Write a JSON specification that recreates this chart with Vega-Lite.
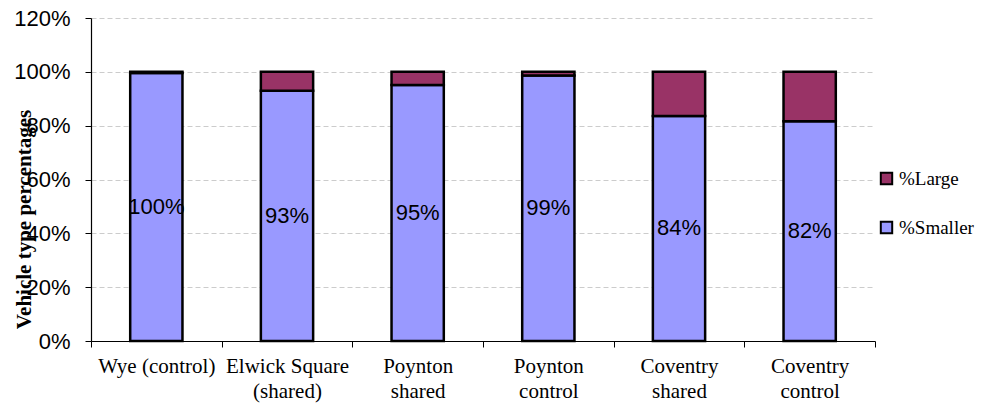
{
  "$schema": "https://vega.github.io/schema/vega-lite/v6.json",
  "autosize": "none",
  "width": 784,
  "height": 323,
  "padding": {"left": 91, "top": 18, "right": 107, "bottom": 67},
  "background": "white",
  "config": {"view": {"stroke": null}},
  "data": {
    "values": [
      {"site": "Wye (control)", "type": "%Smaller", "value": 0.996},
      {"site": "Wye (control)", "type": "%Large", "value": 0.004},
      {"site": "Elwick Square|(shared)", "type": "%Smaller", "value": 0.93},
      {"site": "Elwick Square|(shared)", "type": "%Large", "value": 0.07},
      {"site": "Poynton|shared", "type": "%Smaller", "value": 0.951},
      {"site": "Poynton|shared", "type": "%Large", "value": 0.049},
      {"site": "Poynton|control", "type": "%Smaller", "value": 0.986},
      {"site": "Poynton|control", "type": "%Large", "value": 0.014},
      {"site": "Coventry|shared", "type": "%Smaller", "value": 0.836},
      {"site": "Coventry|shared", "type": "%Large", "value": 0.164},
      {"site": "Coventry|control", "type": "%Smaller", "value": 0.816},
      {"site": "Coventry|control", "type": "%Large", "value": 0.184}
    ]
  },
  "encoding": {
    "x": {
      "field": "site", "type": "nominal", "sort": null,
      "scale": {"paddingInner": 0, "paddingOuter": 0},
      "axis": {
        "title": null, "labelAngle": 0, "tickBand": "extent",
        "labelExpr": "isValid(datum.value) ? split(datum.value, '|') : ''",
        "labelFont": "Liberation Serif", "labelFontSize": 21, "labelColor": "black",
        "labelLineHeight": 25, "labelPadding": 8, "labelBaseline": "top",
        "tickColor": "black", "tickSize": 6, "domainColor": "black", "domainWidth": 1.2,
        "grid": false
      }
    }
  },
  "layer": [
    {
      "mark": {"type": "bar", "width": {"band": 0.4}, "stroke": "black", "strokeWidth": 2.5},
      "encoding": {
        "y": {
          "field": "value", "type": "quantitative", "stack": "zero",
          "scale": {"domain": [0, 1.2], "nice": false},
          "axis": {
            "format": ".0%", "values": [0, 0.2, 0.4, 0.6, 0.8, 1.0, 1.2],
            "title": "Vehicle type percentages",
            "titleFont": "Liberation Serif", "titleFontSize": 21, "titleFontWeight": "bold",
            "titleColor": "black", "titleX": -67, "titleY": 201, "titleBaseline": "middle",
            "titleAlign": "center", "titleAngle": -90,
            "labelFont": "Liberation Sans", "labelFontSize": 22, "labelColor": "black",
            "labelPadding": 15, "tickSize": 6, "tickColor": "black",
            "domainColor": "black", "domainWidth": 1.2,
            "gridColor": "#cccccc", "gridDash": [5, 3], "gridWidth": 1
          }
        },
        "color": {
          "field": "type", "type": "nominal",
          "scale": {"domain": ["%Large", "%Smaller"], "range": ["#993366", "#9999FF"]},
          "legend": {
            "title": null, "orient": "none", "legendX": 786, "legendY": 151,
            "symbolType": "square", "symbolSize": 130, "symbolStrokeColor": "black",
            "symbolStrokeWidth": 2, "labelFont": "Liberation Serif", "labelFontSize": 19,
            "labelColor": "black", "rowPadding": 28, "labelOffset": 3
          }
        },
        "order": {"field": "type", "sort": "descending"}
      }
    },
    {
      "transform": [{"filter": "datum.type === '%Smaller'"}],
      "mark": {"type": "text", "font": "Liberation Sans", "fontSize": 22, "color": "black"},
      "encoding": {
        "y": {"field": "value", "type": "quantitative", "stack": "zero", "bandPosition": 0.5},
        "text": {"field": "value", "type": "quantitative", "format": ".0%"}
      }
    }
  ]
}
